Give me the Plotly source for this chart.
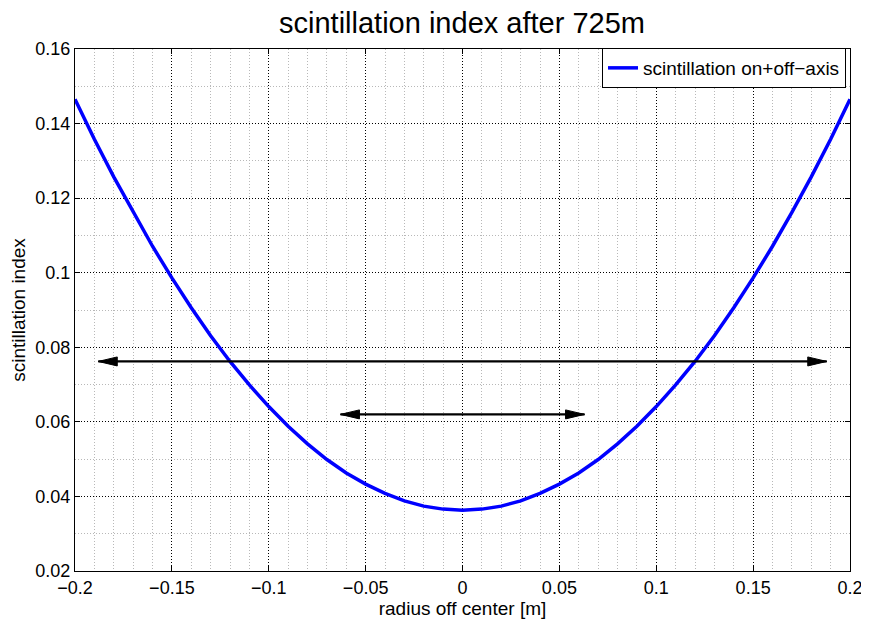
import plotly.graph_objects as go

# radius off center [m]
radius = [-0.20, -0.19, -0.18, -0.17, -0.16, -0.15, -0.14, -0.13, -0.12, -0.11,
          -0.10, -0.09, -0.08, -0.07, -0.06, -0.05, -0.04, -0.03, -0.02, -0.01,
          0.00, 0.01, 0.02, 0.03, 0.04, 0.05, 0.06, 0.07, 0.08, 0.09,
          0.10, 0.11, 0.12, 0.13, 0.14, 0.15, 0.16, 0.17, 0.18, 0.19, 0.20]
# scintillation index
scint = [0.1465, 0.1358, 0.1257, 0.1162, 0.1071, 0.0986, 0.0906, 0.0831, 0.0762, 0.0699,
         0.0641, 0.0588, 0.0541, 0.0499, 0.0463, 0.0433, 0.0408, 0.0388, 0.0374, 0.0366,
         0.0363, 0.0366, 0.0374, 0.0388, 0.0408, 0.0433, 0.0463, 0.0499, 0.0541, 0.0588,
         0.0641, 0.0699, 0.0762, 0.0831, 0.0906, 0.0986, 0.1071, 0.1162, 0.1257, 0.1358,
         0.1465]

# double-headed arrows
arrow_x_start = [-0.188, -0.063]
arrow_x_end = [0.188, 0.063]
arrow_y = [0.0762, 0.062]

x_ticks = [-0.2, -0.15, -0.1, -0.05, 0, 0.05, 0.1, 0.15, 0.2]
x_tick_labels = ["\u22120.2", "\u22120.15", "\u22120.1", "\u22120.05", "0", "0.05", "0.1", "0.15", "0.2"]
y_ticks = [0.02, 0.04, 0.06, 0.08, 0.1, 0.12, 0.14, 0.16]
y_tick_labels = ["0.02", "0.04", "0.06", "0.08", "0.1", "0.12", "0.14", "0.16"]

FONT = "Liberation Sans, Arial, sans-serif"

fig = go.Figure()
fig.add_trace(go.Scatter(
    x=radius, y=scint, mode="lines",
    line=dict(color="#0000ff", width=3.5),
    name="scintillation on+off\u2212axis",
))

shapes = []
for xs, xe, ya in zip(arrow_x_start, arrow_x_end, arrow_y):
    shapes.append(dict(type="line", xref="x", yref="y", x0=xs, x1=xe, y0=ya, y1=ya,
                       line=dict(color="black", width=2.2), layer="above"))
    shapes.append(dict(type="path", xref="x", yref="y", xsizemode="pixel", ysizemode="pixel",
                       xanchor=xs, yanchor=ya, path="M0,0 L19,4.5 L19,-4.5 Z",
                       fillcolor="black", line=dict(color="black", width=1), layer="above"))
    shapes.append(dict(type="path", xref="x", yref="y", xsizemode="pixel", ysizemode="pixel",
                       xanchor=xe, yanchor=ya, path="M0,0 L-19,4.5 L-19,-4.5 Z",
                       fillcolor="black", line=dict(color="black", width=1), layer="above"))

axis_common = dict(
    showline=True, linecolor="black", linewidth=1, mirror="ticks",
    ticks="inside", ticklen=5, tickcolor="black", tickwidth=1,
    showgrid=True, gridcolor="black", gridwidth=1, griddash="1px,2px",
    zeroline=False,
    tickfont=dict(family=FONT, size=18, color="black"),
)

# the page body adds an 8px margin, so the figure is 8px smaller and margins are shifted
fig.update_layout(
    width=861, height=611,
    paper_bgcolor="white", plot_bgcolor="white",
    margin=dict(l=67, r=19, t=41, b=48, autoexpand=False),
    title=dict(text="scintillation index after 725m", x=454 / 861, xanchor="center",
               y=1 - 15 / 611, yanchor="middle", yref="container",
               font=dict(family=FONT, size=29, color="black")),
    xaxis=dict(range=[-0.2, 0.2], tickvals=x_ticks, ticktext=x_tick_labels,
               minor=dict(dtick=0.01, tick0=0, showgrid=True, gridcolor="#b8b8b8",
                          gridwidth=1, griddash="1px,2px", ticks=""),
               title=dict(text="radius off center [m]", standoff=0,
                          font=dict(family=FONT, size=19, color="black")),
               **axis_common),
    yaxis=dict(range=[0.02, 0.16], tickvals=y_ticks, ticktext=y_tick_labels,
               minor=dict(dtick=0.01, tick0=0, showgrid=True, gridcolor="#b8b8b8",
                          gridwidth=1, griddash="1px,2px", ticks=""),
               title=dict(text="scintillation index", standoff=6,
                          font=dict(family=FONT, size=19, color="black")),
               **axis_common),
    showlegend=True,
    legend=dict(x=1 - 4 / 775, y=1 + 1 / 522, xanchor="right", yanchor="top",
                bgcolor="white", bordercolor="black", borderwidth=1,
                font=dict(family=FONT, size=19, color="black"),
                itemwidth=30, tracegroupgap=0),
    shapes=shapes,
)

fig.write_html("out.html")
